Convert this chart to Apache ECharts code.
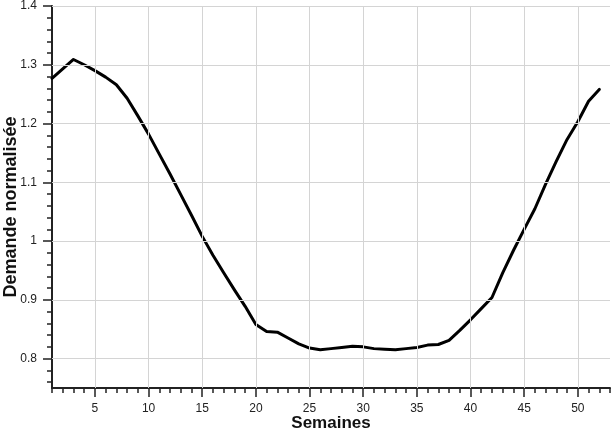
<!DOCTYPE html>
<html>
<head>
<meta charset="utf-8">
<script src="https://cdn.jsdelivr.net/npm/echarts@6/dist/echarts.min.js"></script>
<style>
html,body{margin:0;padding:0;background:#fff}
#chart{width:612px;height:433px}
</style>
</head>
<body>
<div id="chart"></div>
<script>
// semaines et demande normalisée
var weeks = [1,2,3,4,5,6,7,8,9,10,11,12,13,14,15,16,17,18,19,20,21,22,23,24,25,26,
	27,28,29,30,31,32,33,34,35,36,37,38,39,40,41,42,43,44,45,46,47,48,49,50,51,52];
var demand = [1.277,1.293,1.309,1.300,1.290,1.279,1.266,1.243,1.213,1.182,1.148,1.114,1.079,
	1.044,1.008,0.976,0.946,0.917,0.889,0.858,0.846,0.845,0.835,0.825,0.818,0.815,0.817,
	0.819,0.821,0.820,0.817,0.816,0.815,0.817,0.819,0.823,0.824,0.831,0.848,0.866,0.885,
	0.904,0.946,0.984,1.020,1.055,1.097,1.136,1.173,1.203,1.238,1.258];

// graduations
var xMajorTicks = [5,10,15,20,25,30,35,40,45,50];
var yMajorTicks = [0.8,0.9,1,1.1,1.2,1.3,1.4];
var yMinorTicks = [0.76,0.78,0.8,0.82,0.84,0.86,0.88,0.9,0.92,0.94,0.96,0.98,1,1.02,1.04,
	1.06,1.08,1.1,1.12,1.14,1.16,1.18,1.2,1.22,1.24,1.26,1.28,1.3,1.32,1.34,1.36,1.38,1.4];

var chart = echarts.init(document.getElementById("chart"));

var font = "'Liberation Sans', Arial, sans-serif";
var gridColor = '#d4d4d4';

var points = weeks.map(function(w, i){ return [w, demand[i]]; });

var gridLines = [];
xMajorTicks.forEach(function(v){ gridLines.push({xAxis: v}); });
yMajorTicks.forEach(function(v){ gridLines.push({yAxis: v}); });

option = {
	animation: false,
	grid: {left: 52, right: 2, top: 6, bottom: 45, outerBoundsMode: 'none', containLabel: false},
	xAxis: [
		{
			type: 'value', min: 1, max: 53, interval: 1,
			name: 'Semaines', nameLocation: 'middle', nameGap: 27, nameMoveOverlap: false,
			nameTextStyle: {fontFamily: font, fontWeight: 'bold', fontSize: 17, color: '#111'},
			axisLine: {show: true, lineStyle: {color: '#222', width: 2}},
			axisTick: {show: true, length: 5, lineStyle: {color: '#222', width: 1.5}},
			axisLabel: {customValues: xMajorTicks, margin: 15, fontFamily: font, fontSize: 12, color: '#222'},
			splitLine: {show: false}
		},
		{
			type: 'value', min: 1, max: 53, position: 'bottom',
			axisLine: {show: false},
			axisTick: {show: true, customValues: xMajorTicks, length: 9, lineStyle: {color: '#222', width: 1.5}},
			axisLabel: {show: false},
			splitLine: {show: false}
		}
	],
	yAxis: [
		{
			type: 'value', min: 0.75, max: 1.4,
			name: 'Demande normalisée', nameLocation: 'middle', nameGap: 32, nameMoveOverlap: false,
			nameTextStyle: {fontFamily: font, fontWeight: 'bold', fontSize: 18, color: '#111', padding: [0, 20, 0, 0]},
			axisLine: {show: true, lineStyle: {color: '#222', width: 2}},
			axisTick: {show: true, customValues: yMinorTicks, length: 5, lineStyle: {color: '#222', width: 1.5}},
			axisLabel: {customValues: yMajorTicks, margin: 15, fontFamily: font, fontSize: 12, color: '#222'},
			splitLine: {show: false}
		},
		{
			type: 'value', min: 0.75, max: 1.4, position: 'left',
			axisLine: {show: false},
			axisTick: {show: true, customValues: yMajorTicks, length: 9, lineStyle: {color: '#222', width: 1.5}},
			axisLabel: {show: false},
			splitLine: {show: false}
		}
	],
	series: [
		{
			// grille
			type: 'line', data: points, z: 1, silent: true,
			showSymbol: false, lineStyle: {opacity: 0},
			markLine: {
				silent: true, symbol: 'none', label: {show: false},
				lineStyle: {color: gridColor, width: 1, type: 'solid'},
				data: gridLines
			}
		},
		{
			name: 'Demande', type: 'line', data: points, z: 3,
			showSymbol: false,
			lineStyle: {color: '#000', width: 3, join: 'round', cap: 'round'}
		}
	]
};
chart.setOption(option);
</script>
</body>
</html>
